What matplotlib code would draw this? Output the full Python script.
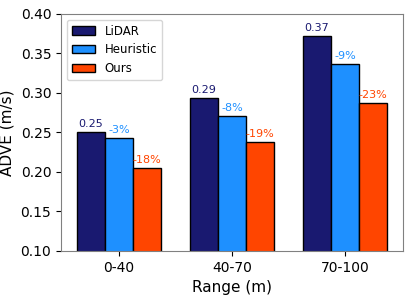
import matplotlib
matplotlib.use("Agg")
import matplotlib.pyplot as plt
import numpy as np

ranges = ["0-40", "40-70", "70-100"]
lidar = [0.251, 0.294, 0.372]
heuristic = [0.243, 0.271, 0.337]
ours = [0.205, 0.238, 0.287]
lidar_labels = ["0.25", "0.29", "0.37"]
heuristic_labels = ["-3%", "-8%", "-9%"]
ours_labels = ["-18%", "-19%", "-23%"]

x = np.arange(len(ranges))
w = 0.25

fig, ax = plt.subplots(figsize=(4.15, 2.97), dpi=100)

series = [
    (lidar, lidar_labels, "LiDAR", "midnightblue"),
    (heuristic, heuristic_labels, "Heuristic", "dodgerblue"),
    (ours, ours_labels, "Ours", "orangered"),
]
for i, (vals, labs, name, col) in enumerate(series):
    pos = x + (i - 1) * w
    ax.bar(pos, vals, w, label=name, color=col, edgecolor="black", linewidth=1)
    for p, v, t in zip(pos, vals, labs):
        ax.text(p, v + 0.004, t, ha="center", va="bottom", fontsize=8, color=col)

ax.set_ylim(0.10, 0.40)
ax.set_xticks(x)
ax.set_xticklabels(ranges, fontsize=10)
ax.tick_params(axis="y", labelsize=10)
ax.set_yticks(np.arange(0.10, 0.401, 0.05))
ax.set_xlabel("Range (m)", fontsize=11)
ax.set_ylabel("ADVE (m/s)", fontsize=11)
for s in ax.spines.values():
    s.set_color("gray")
ax.legend(loc="upper left", fontsize=8.5)

plt.subplots_adjust(left=0.147, right=0.971, top=0.953, bottom=0.155)
plt.savefig("out.png")
